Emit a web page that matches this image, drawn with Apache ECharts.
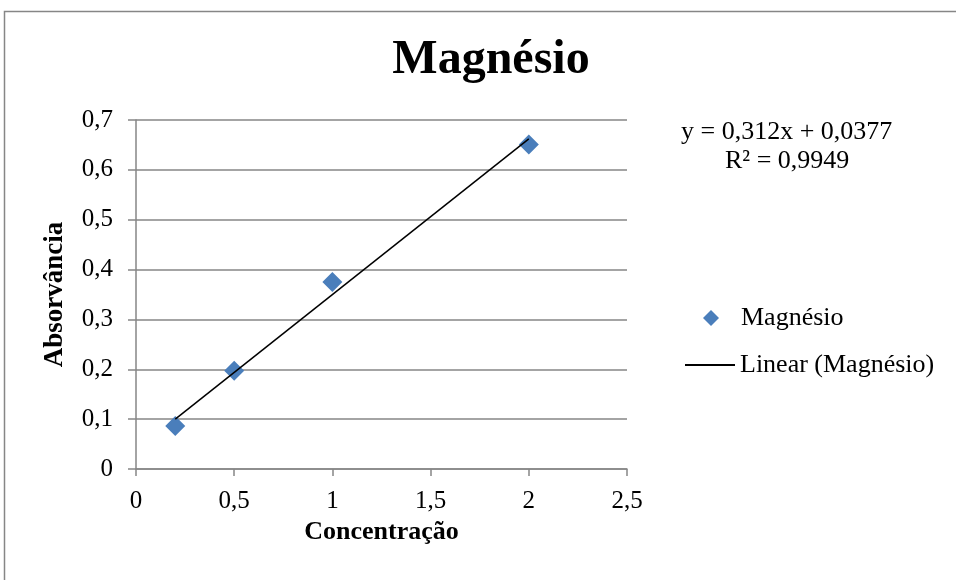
<!DOCTYPE html>
<html><head><meta charset="utf-8">
<script src="https://cdn.jsdelivr.net/npm/echarts@6/dist/echarts.min.js"></script>
<style>html,body{margin:0;padding:0;background:#fff}#c{width:956px;height:580px}</style>
</head><body><div id="c"></div>
<script>
const concentracao = [0.2, 0.5, 1.0, 2.0];
const absorvancia = [0.086, 0.197, 0.375, 0.651];
const trendX = [0.2, 2.0];
const trendY = [0.100, 0.662];
const equationText = ['y = 0,312x + 0,0377', 'R² = 0,9949'];
const fmt = v => v === 0 ? '0' : String(v).replace('.', ',');
const FONT = '"Liberation Serif", "Times New Roman", serif';
const chart = echarts.init(document.getElementById('c'));
chart.setOption({
  animation: false,
  backgroundColor: '#fff',
  title: { text: 'Magnésio', left: 486, top: 32, textAlign: 'center',
    textStyle: { fontFamily: FONT, fontSize: 48, fontWeight: 'bold', color: '#000' } },
  graphic: [
    { type: 'rect', shape: { x: 4.5, y: 11.5, width: 960, height: 580 }, style: { fill: 'none', stroke: '#868686', lineWidth: 1.5 } },
    { type: 'text', left: 681, top: 119, style: { text: equationText[0], font: '26px ' + FONT, fill: '#000' } },
    { type: 'text', left: 725, top: 148, style: { text: equationText[1], font: '26px ' + FONT, fill: '#000' } }
  ],
  legend: [
    { data: [{ name: 'Magnésio', icon: 'diamond' }], left: 703, top: 305, padding: 0, itemWidth: 16, itemHeight: 16,
      textStyle: { fontFamily: FONT, fontSize: 26, color: '#000', padding: [0, 0, 0, 17] } },
    { data: [{ name: 'Linear (Magnésio)', icon: 'rect' }], left: 685, top: 352, padding: 0, itemWidth: 50, itemHeight: 2,
      textStyle: { fontFamily: FONT, fontSize: 26, color: '#000', padding: [0, 0, 0, 0] } }
  ],
  grid: { left: 136, right: 329, top: 120, bottom: 111, containLabel: false },
  xAxis: {
    type: 'value', min: 0, max: 2.5, interval: 0.5,
    name: 'Concentração', nameLocation: 'middle', nameGap: 44,
    nameTextStyle: { fontFamily: FONT, fontSize: 26, fontWeight: 'bold', color: '#000' },
    axisLine: { lineStyle: { color: '#868686', width: 1.5 } },
    axisTick: { show: true, length: 7, lineStyle: { color: '#868686', width: 1.5 } },
    axisLabel: { formatter: fmt, fontFamily: FONT, fontSize: 25, color: '#000', margin: 20 },
    splitLine: { show: false }
  },
  yAxis: {
    type: 'value', min: 0, max: 0.7, interval: 0.1,
    name: 'Absorvância', nameLocation: 'middle', nameGap: 67,
    nameTextStyle: { fontFamily: FONT, fontSize: 27, fontWeight: 'bold', color: '#000' },
    axisLine: { show: true, lineStyle: { color: '#868686', width: 1.5 } },
    axisTick: { show: true, length: 8, lineStyle: { color: '#868686', width: 1.5 } },
    axisLabel: { formatter: v => fmt(Math.round(v * 10) / 10), fontFamily: FONT, fontSize: 25, color: '#000', margin: 23 },
    splitLine: { lineStyle: { color: '#868686', width: 1.5 } }
  },
  series: [
    { name: 'Magnésio', type: 'scatter', symbol: 'diamond', symbolSize: 20,
      itemStyle: { color: '#4a7ebb', opacity: 1 }, z: 3,
      data: concentracao.map((x, i) => [x, absorvancia[i]]) },
    { name: 'Linear (Magnésio)', type: 'line', showSymbol: false, symbol: 'none',
      lineStyle: { color: '#000', width: 1.5 }, itemStyle: { color: '#000' }, z: 4,
      data: trendX.map((x, i) => [x, trendY[i]]) }
  ]
});
</script></body></html>
